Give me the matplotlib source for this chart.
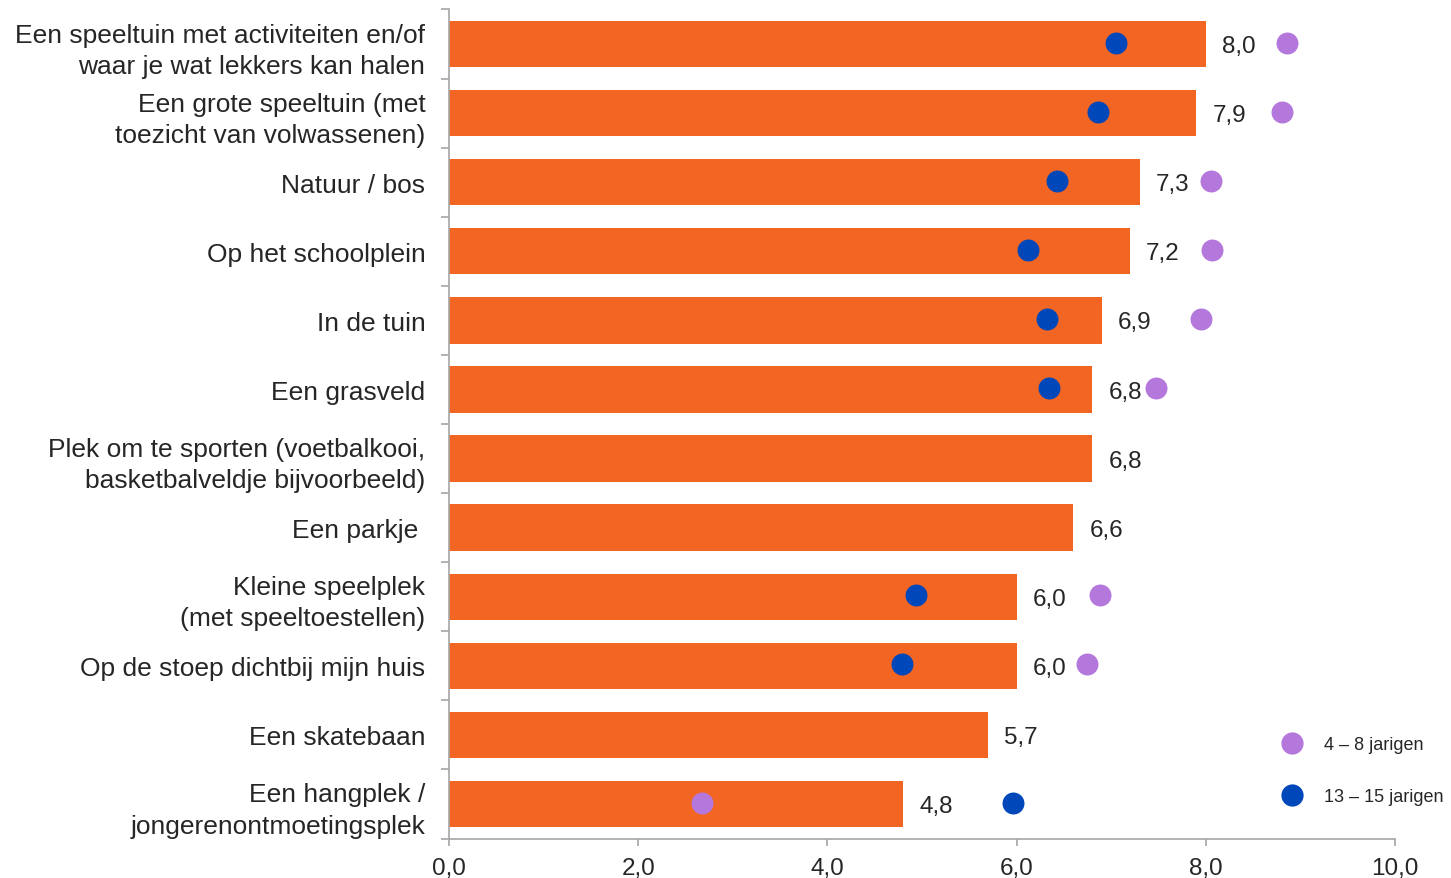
import numpy as np
import matplotlib
matplotlib.use("Agg")
import matplotlib.pyplot as plt
from matplotlib.lines import Line2D

plt.rcParams['font.family'] = ['Liberation Sans', 'DejaVu Sans']

# --- DATA ---
categories = [
    "Een speeltuin met activiteiten en/of\nwaar je wat lekkers kan halen",
    "Een grote speeltuin (met\ntoezicht van volwassenen)",
    "Natuur / bos",
    "Op het schoolplein",
    "In de tuin",
    "Een grasveld",
    "Plek om te sporten (voetbalkooi,\nbasketbalveldje bijvoorbeeld)",
    "Een parkje ",
    "Kleine speelplek\n(met speeltoestellen)",
    "Op de stoep dichtbij mijn huis",
    "Een skatebaan",
    "Een hangplek /\njongerenontmoetingsplek",
]
totaal = [8.0, 7.9, 7.3, 7.2, 6.9, 6.8, 6.8, 6.6, 6.0, 6.0, 5.7, 4.8]
# None = geen waarde voor die groep
jong_4_8 = [8.86, 8.81, 8.05, 8.07, 7.95, 7.47, None, None, 6.88, 6.74, None, 2.67]
oud_13_15 = [7.05, 6.86, 6.43, 6.12, 6.32, 6.34, None, None, 4.94, 4.79, None, 5.96]
xticks = [0, 2, 4, 6, 8, 10]

ORANJE = '#F26522'
PAARS = '#B478DC'
BLAUW = '#0047BA'
GRIJS = '#A6A6A6'
TEKST = '#262626'

fig = plt.figure(figsize=(14.51, 8.79), dpi=100)
ax = fig.add_axes([0.3094, 0.0449, 0.652, 0.9432])

y = np.arange(len(categories))
ax.barh(y, totaal, height=0.67, color=ORANJE, zorder=2)

for yi, v in zip(y, totaal):
    ax.text(v + 0.17, yi + 0.03, f"{v:.1f}".replace('.', ','), va='center', ha='left',
            fontsize=17.5, color=TEKST)

def punten(vals, kleur):
    xs = [v for v in vals if v is not None]
    ys = [yi - 0.02 for yi, v in zip(y, vals) if v is not None]
    ax.scatter(xs, ys, s=250, color=kleur, zorder=3, linewidths=0, clip_on=False)

punten(jong_4_8, PAARS)
punten(oud_13_15, BLAUW)

ax.set_ylim(len(categories) - 0.5, -0.5)
ax.set_xlim(0, 10)
ax.set_yticks(y)
ax.set_yticklabels(categories, fontsize=19, color=TEKST, linespacing=1.38)
ax.set_yticks(np.arange(-0.5, len(categories), 1), minor=True)
ax.tick_params(axis='y', which='major', length=0, pad=17)
ax.tick_params(axis='y', which='minor', length=6, color=GRIJS, width=1.2)
ax.set_xticks(xticks)
ax.set_xticklabels([f"{t:.1f}".replace('.', ',') for t in xticks], fontsize=17.5, color=TEKST)
ax.tick_params(axis='x', length=5, color=GRIJS, width=1.2, pad=8)

for s in ['top', 'right']:
    ax.spines[s].set_visible(False)
for s in ['left', 'bottom']:
    ax.spines[s].set_color(GRIJS)
    ax.spines[s].set_linewidth(1.2)

handles = [
    Line2D([], [], marker='o', linestyle='none', markersize=16, color=PAARS, markeredgewidth=0),
    Line2D([], [], marker='o', linestyle='none', markersize=16, color=BLAUW, markeredgewidth=0),
]
fig.legend(handles, ["4 \u2013 8 jarigen", "13 \u2013 15 jarigen"], loc='center left',
           bbox_to_anchor=(0.867, 0.122), frameon=False, fontsize=13, labelspacing=1.95,
           handletextpad=0.75, labelcolor=TEKST)

fig.savefig("out.png", dpi=100)
